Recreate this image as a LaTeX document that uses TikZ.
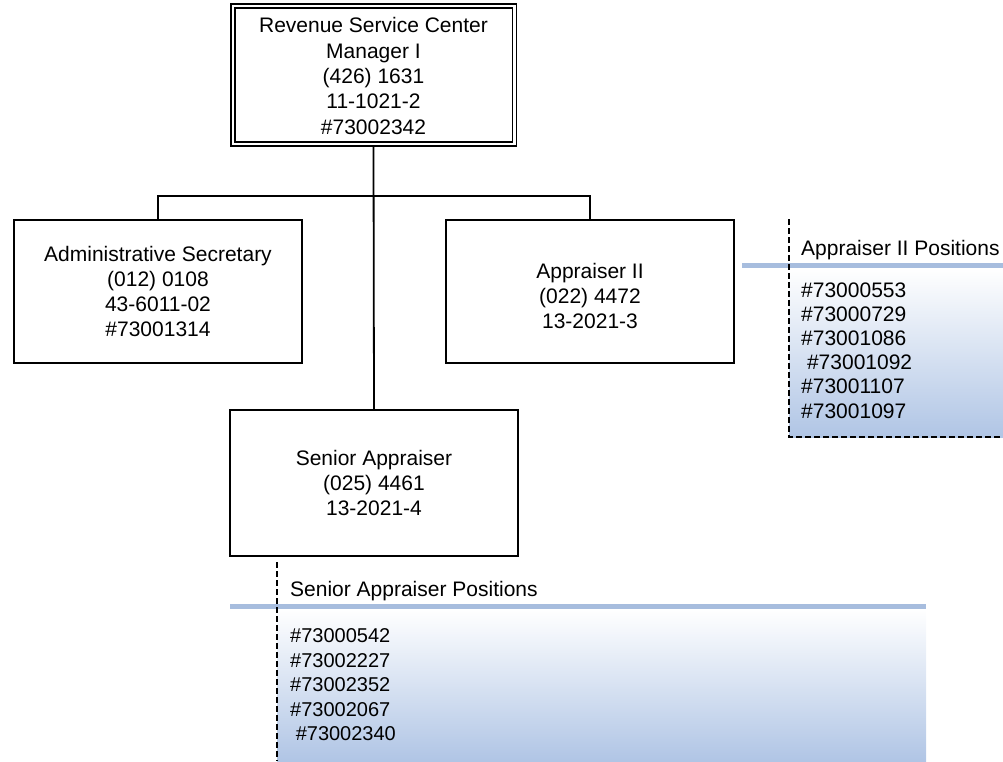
\documentclass[tikz,border=0pt]{standalone}
\usepackage{fontspec}
\setmainfont{Liberation Sans}
\definecolor{barblue}{RGB}{167,189,222}
\definecolor{fadeblue}{RGB}{176,197,229}
\begin{document}
\begin{tikzpicture}[x=1pt,y=-1pt,
  every node/.style={font=\fontsize{21}{25.3}\selectfont, inner sep=0pt},
  posbox/.style={draw=black, line width=2pt, align=center,
    minimum width=288pt, minimum height=143pt},
  link/.style={draw=black, line width=1.8pt},
  fence/.style={draw=black, line width=1.5pt, dash pattern=on 6pt off 3pt},
  band/.style={fill=barblue, draw=none},
  item/.style={anchor=base west}
]
\useasboundingbox (0,0) rectangle (1003,761);

% manager box with a double frame
\node[minimum width=285pt, minimum height=142pt] (mgr) at (373.5,75) {};
\draw[line width=1.6pt] (231,4) rectangle (516.5,146);
\draw[line width=1.6pt] (235,8) rectangle (512.5,142);
\node[align=center] (mgrtxt) at (373.5,76) {Revenue Service Center\\Manager I\\(426) 1631\\11-1021-2\\\#73002342};

% subordinate position boxes
\node[posbox] (sec) at (158,291.5) {Administrative Secretary\\(012) 0108\\43-6011-02\\\#73001314};
\node[posbox] (app) at (590,291.5) {};
\node[align=center] (apptxt) at (590,296) {Appraiser II\\(022) 4472\\13-2021-3};
\node[posbox, minimum height=146pt] (sen) at (374,483) {Senior Appraiser\\(025) 4461\\13-2021-4};

% reporting lines
\coordinate (bus) at (373.5,196);
\draw[link] (mgr.south) -- (sen.north);
\draw[link] (sec.north) |- (bus) -| (app.north);

% Appraiser II position list
\shade[top color=white, bottom color=fadeblue] (789,268) rectangle (1003,437);
\fill[band] (742,263) rectangle (1003,268);
\draw[fence] (789,219) -- (789,437) -- (1003,437);
\node[item] (apphead) at (801,255.5) {Appraiser II Positions};
\foreach \n/\t [count=\i from 0] in {a/\#73000553, b/\#73000729, c/\#73001086, d/\ \#73001092, e/\#73001107, f/\#73001097}
  \node[item] (app\n) at (801,297+24.2*\i) {\t};

% Senior Appraiser position list
\shade[top color=white, bottom color=fadeblue] (277,609) rectangle (926,761);
\fill[band] (230,604) rectangle (926,609);
\draw[fence] (277,562) -- (277,761);
\node[item] (senhead) at (290,596) {Senior Appraiser Positions};
\foreach \n/\t [count=\i from 0] in {a/\#73000542, b/\#73002227, c/\#73002352, d/\#73002067, e/\ \#73002340}
  \node[item, font=\fontsize{20}{24}\selectfont] (sen\n) at (290,642.5+24.5*\i) {\t};
\end{tikzpicture}
\end{document}
